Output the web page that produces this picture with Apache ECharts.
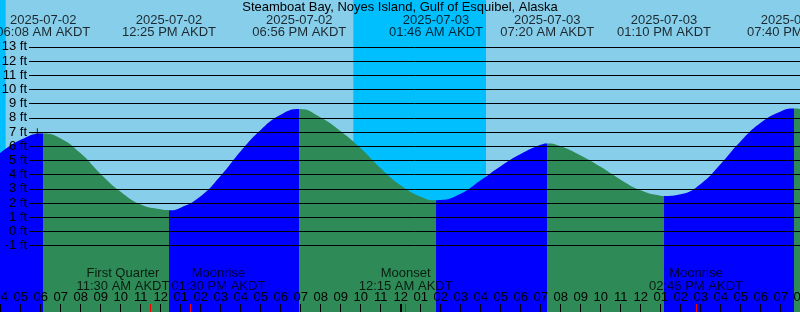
<!DOCTYPE html>
<html><head><meta charset="utf-8">
<script src="https://cdn.jsdelivr.net/npm/echarts@6/dist/echarts.min.js"></script>
<style>html,body{margin:0;padding:0;background:#87CEEB;overflow:hidden}#c{width:800px;height:312px}</style>
</head><body><div id="c"></div>
<script>
// ---------------- data ----------------
const TITLE = 'Steamboat Bay, Noyes Island, Gulf of Esquibel, Alaska';
const TZ = 'AKDT';
const tideTimes = ['2025-07-02 03:55','2025-07-02 05:00','2025-07-02 06:08','2025-07-02 07:00','2025-07-02 08:00','2025-07-02 09:00','2025-07-02 10:00','2025-07-02 11:00','2025-07-02 12:00','2025-07-02 12:25','2025-07-02 13:00','2025-07-02 14:00','2025-07-02 15:00','2025-07-02 16:00','2025-07-02 17:00','2025-07-02 18:00','2025-07-02 18:56','2025-07-02 20:00','2025-07-02 21:00','2025-07-02 22:00','2025-07-02 23:00','2025-07-03 00:00','2025-07-03 01:00','2025-07-03 01:46','2025-07-03 02:00','2025-07-03 03:00','2025-07-03 04:00','2025-07-03 05:00','2025-07-03 06:00','2025-07-03 07:00','2025-07-03 07:20','2025-07-03 08:00','2025-07-03 09:00','2025-07-03 10:00','2025-07-03 11:00','2025-07-03 12:00','2025-07-03 13:00','2025-07-03 13:10','2025-07-03 14:00','2025-07-03 15:00','2025-07-03 16:00','2025-07-03 17:00','2025-07-03 18:00','2025-07-03 19:00','2025-07-03 19:40','2025-07-03 20:05'];
const tideFeet = [5.45,6.45,6.9,6.55,5.5,4.05,2.8,1.9,1.56,1.5,1.68,2.48,3.92,5.65,7.15,8.22,8.62,8.02,7.05,5.85,4.45,3.25,2.45,2.2,2.21,2.65,3.6,4.6,5.45,6.1,6.2,6.0,5.35,4.55,3.65,2.9,2.52,2.5,2.62,3.35,4.75,6.35,7.65,8.45,8.65,8.6];
// high / low tide times (first one is a high tide)
const extremeTimes = ['2025-07-02 06:08','2025-07-02 12:25','2025-07-02 18:56','2025-07-03 01:46','2025-07-03 07:20','2025-07-03 13:10','2025-07-03 19:40'];
const moonEvents = ['First Quarter','Moonrise','Moonset','Moonrise'];
const moonTimes = ['2025-07-02 11:30','2025-07-02 13:30','2025-07-03 00:15','2025-07-03 14:46'];
const sunriseTimes = ['2025-07-02 04:15','2025-07-03 04:16'];
const sunsetTimes = ['2025-07-02 21:38'];
const depthMin = -1, depthMax = 13;
const markTime = '2025-07-02 05:50', markFeet = 6.95;
const viewStart = '2025-07-02 03:58', viewHours = 40;

// ---------------- helpers ----------------
const BASE = Date.UTC(2025, 6, 2);
function hrs(s) {
  const [d, t] = s.split(' ');
  const [Y, M, D] = d.split('-').map(Number);
  const [H, m] = t.split(':').map(Number);
  return (Date.UTC(Y, M - 1, D, H, m) - BASE) / 3600000;
}
function p2(n) { return (n < 10 ? '0' : '') + n; }
function fmtTime(s) {
  const [d, t] = s.split(' ');
  const [H, m] = t.split(':').map(Number);
  const h12 = H % 12 === 0 ? 12 : H % 12;
  return p2(h12) + ':' + p2(m) + ' ' + (H < 12 ? 'AM' : 'PM') + ' ' + TZ;
}
const FONT = "'Liberation Sans', Arial, sans-serif";
const SKY = '#87CEEB', NIGHT = '#00BFFF', RISE = '#0000FF', FALL = '#2E8B57';
const W = 800, H = 312;
const PX_PER_HOUR = W / viewHours;
const Y0 = 231.5, PX_PER_FT = 14.21; // pixel of 0 ft, scale
const ftAt = y => (Y0 - y) / PX_PER_FT;

const AX_MIN = Math.floor(hrs(viewStart));
const AX_MAX = Math.ceil(hrs(viewStart) + viewHours);
const gridLeft = -(hrs(viewStart) - AX_MIN) * PX_PER_HOUR;
const gridRight = -(AX_MAX - (hrs(viewStart) + viewHours)) * PX_PER_HOUR;

// colour pieces: rising (blue) before a high, falling (green) after
const pieces = [];
const eh = extremeTimes.map(hrs);
pieces.push({ lt: eh[0], color: RISE });
for (let i = 0; i < eh.length; i++) {
  const col = i % 2 === 0 ? FALL : RISE;
  if (i < eh.length - 1) pieces.push({ gte: eh[i], lt: eh[i + 1], color: col });
  else pieces.push({ gte: eh[i], color: col });
}

// night bands
const nights = [[AX_MIN, hrs(sunriseTimes[0]), 0]];
sunsetTimes.forEach((s, i) => nights.push([hrs(s), sunriseTimes[i + 1] ? hrs(sunriseTimes[i + 1]) : AX_MAX, 0]));

// moon label de-overlap (push apart horizontally)
const cv = document.createElement('canvas').getContext('2d');
cv.font = '13px ' + FONT;
const moonTexts = moonEvents.map((n, i) => n + '\n' + fmtTime(moonTimes[i]));
const moonW = moonTexts.map(t => Math.max(...t.split('\n').map(l => cv.measureText(l).width)));
const moonX = moonTimes.map(t => (hrs(t) - hrs(viewStart)) * PX_PER_HOUR);
const moonC = moonX.slice();
for (let i = 0; i < moonC.length - 1; i++) {
  const need = (moonW[i] + moonW[i + 1]) / 2 + 2;
  const dist = moonC[i + 1] - moonC[i];
  if (dist < need) { const p = (need - dist) / 2; moonC[i] -= p; moonC[i + 1] += p; }
}

const noZero = { show: false, onZero: false };
const chart = echarts.init(document.getElementById('c'), null, { renderer: 'canvas' });
chart.setOption({
  backgroundColor: SKY,
  animation: false,
  title: {
    text: TITLE, left: 'center', top: 1, padding: 0,
    textStyle: { fontFamily: FONT, fontSize: 13, fontWeight: 'normal', color: '#000' }
  },
  grid: [
    { left: gridLeft, right: gridRight, top: 0, bottom: 0, containLabel: false, outerBoundsMode: 'none' },
    { left: 29, right: 0, top: Y0 - depthMax * PX_PER_FT, bottom: H - (Y0 - depthMin * PX_PER_FT), containLabel: false, outerBoundsMode: 'none' }
  ],
  xAxis: [
    { gridIndex: 0, type: 'value', min: AX_MIN, max: AX_MAX, interval: 1, position: 'bottom', z: 10,
      axisLine: noZero, splitLine: { show: false },
      axisTick: { show: true, inside: true, length: 8, lineStyle: { color: '#000', width: 1 } },
      axisLabel: { show: true, inside: true, margin: 8, fontFamily: FONT, fontSize: 13, color: '#000', hideOverlap: false,
        formatter: v => { const hh = ((v % 24) + 24) % 24; const h12 = hh % 12 === 0 ? 12 : hh % 12; return p2(h12); } } },
    { gridIndex: 0, type: 'value', min: AX_MIN, max: AX_MAX, position: 'bottom', z: 11,
      axisLine: noZero, splitLine: { show: false }, axisLabel: { show: false },
      axisTick: { show: true, inside: true, length: 8, customValues: moonTimes.map(hrs), lineStyle: { color: '#FF0000', width: 1 } } },
    { gridIndex: 0, type: 'value', min: AX_MIN, max: AX_MAX, position: 'bottom', z: 11,
      axisLine: noZero, splitLine: { show: false }, axisLabel: { show: false },
      axisTick: { show: true, inside: true, length: 8, customValues: [24], lineStyle: { color: '#000', width: 2 } } },
    { gridIndex: 1, type: 'value', min: 0, max: 1, show: false, axisLine: noZero }
  ],
  yAxis: [
    { gridIndex: 0, type: 'value', min: ftAt(H), max: ftAt(0), show: false, splitLine: { show: false }, axisLine: noZero },
    { gridIndex: 1, type: 'value', min: depthMin, max: depthMax, interval: 1, z: 10,
      axisLine: noZero, axisTick: { show: false },
      splitLine: { show: true, showMinLine: true, showMaxLine: true, lineStyle: { color: '#000', width: 1 } },
      axisLabel: { show: true, margin: 2, fontFamily: FONT, fontSize: 13, color: '#000', formatter: v => v + ' ft' } }
  ],
  visualMap: [{ type: 'piecewise', show: false, dimension: 0, seriesIndex: 1, pieces: pieces, outOfRange: { color: RISE } }],
  series: [
    { type: 'custom', xAxisIndex: 0, yAxisIndex: 0, z: 1, silent: true, data: nights, encode: { x: [0, 1], y: 2 },
      renderItem: (params, api) => {
        const s = api.coord([api.value(0), 0]);
        const e = api.coord([api.value(1), 0]);
        const cs = params.coordSys;
        return { type: 'rect', shape: { x: s[0], y: cs.y, width: e[0] - s[0], height: cs.height }, style: { fill: NIGHT } };
      } },
    { type: 'line', xAxisIndex: 0, yAxisIndex: 0, z: 3, silent: true, smooth: 0.5, symbol: 'none',
      data: tideTimes.map((t, i) => [hrs(t), tideFeet[i]]),
      lineStyle: { width: 0 }, areaStyle: { opacity: 1, origin: 'start' } },
    { type: 'scatter', xAxisIndex: 0, yAxisIndex: 0, z: 12, silent: true, symbolSize: 1,
      itemStyle: { color: 'rgba(0,0,0,0)' },
      data: extremeTimes.map(t => [hrs(t), ftAt(26.2)]),
      label: { show: true, position: 'inside', fontFamily: FONT, fontSize: 13, lineHeight: 12, color: '#000', align: 'center', verticalAlign: 'middle',
        formatter: p => extremeTimes[p.dataIndex].split(' ')[0] + '\n' + fmtTime(extremeTimes[p.dataIndex]) } },
    { type: 'scatter', xAxisIndex: 0, yAxisIndex: 0, z: 12, silent: true, symbolSize: 1,
      itemStyle: { color: 'rgba(0,0,0,0)' },
      data: moonTimes.map((t, i) => ({ value: [hrs(t), ftAt(280.1)], label: { offset: [moonC[i] - moonX[i], 0] } })),
      label: { show: true, position: 'inside', fontFamily: FONT, fontSize: 13, lineHeight: 12.5, color: '#000', align: 'center', verticalAlign: 'middle',
        formatter: p => moonTexts[p.dataIndex] } },
    { type: 'scatter', xAxisIndex: 0, yAxisIndex: 0, z: 12, silent: true,
      symbol: 'path://M0,4H12V5H0Z M5.5,0H6.5V9H5.5Z', symbolSize: [12, 9], symbolKeepAspect: false,
      itemStyle: { color: '#000' },
      data: [[hrs(markTime), markFeet]] }
  ]
});
</script>
</body></html>
